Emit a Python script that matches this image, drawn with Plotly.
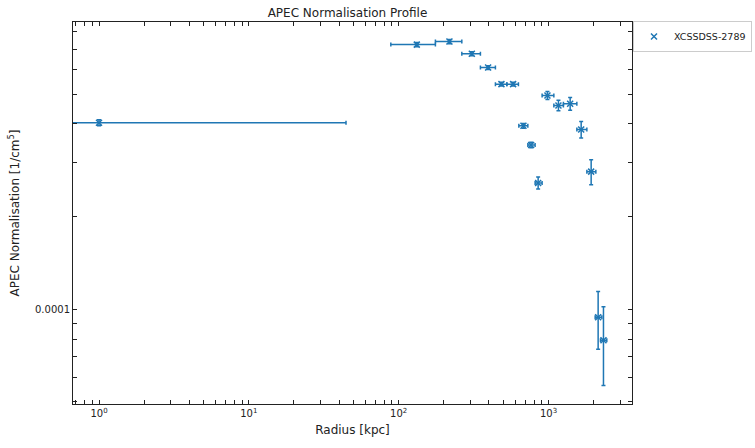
import plotly.graph_objects as go

# Annulus radii [kpc] and APEC normalisation values
radius = [1, 132.1, 218.1, 307.6, 395.2, 484.9, 580.3, 680, 765.2, 852.3,
          983.3, 1164.6, 1394, 1651, 1925, 2143, 2326]
radius_inner = [0.01, 88.6, 175.8, 263.8, 351.1, 442.1, 526.9, 633.5, 727.6, 813.7,
                906, 1085, 1257, 1545, 1802, 2047, 2221]
radius_outer = [44.5, 175.8, 263.8, 351.1, 442.1, 526.9, 629.6, 727.6, 813.7, 906,
                1085, 1257, 1545, 1802, 2069, 2269, 2449]
norm = [4.035e-4, 7.244e-4, 7.41e-4, 6.77e-4, 6.10e-4, 5.39e-4, 5.39e-4, 3.945e-4,
        3.42e-4, 2.573e-4, 4.953e-4, 4.595e-4, 4.654e-4, 3.837e-4, 2.80e-4,
        9.417e-5, 7.926e-5]
norm_err = [9e-6, 1.2e-5, 1.2e-5, 1e-5, 9e-6, 8e-6, 8e-6, 7e-6, 7e-6, 1.15e-5,
            1.5e-5, 1.8e-5, 2.2e-5, 2.35e-5, 2.6e-5, 2.0e-5, 2.27e-5]

x_major = [1, 10, 100, 1000]
x_major_text = ["10<sup>0</sup>", "10<sup>1</sup>", "10<sup>2</sup>", "10<sup>3</sup>"]
y_major = [1e-4]
y_major_text = ["0.0001"]

x_minor = [0.7, 0.8, 0.9] + [m * d for d in (1, 10, 100) for m in range(2, 10)] + [2000, 3000]
y_minor = [m * 1e-5 for m in range(5, 10)] + [m * 1e-4 for m in range(2, 9)]

xerr_minus = [r - lo for r, lo in zip(radius, radius_inner)]
xerr_plus = [hi - r for r, hi in zip(radius, radius_outer)]

blue = "#1f77b4"
W, H = 755, 448

fig = go.Figure()
fig.add_trace(go.Scatter(
    x=radius, y=norm, mode="markers", name="XCSSDSS-2789",
    marker=dict(symbol="x-thin", size=6, color=blue, line=dict(width=1.5, color=blue)),
    error_x=dict(type="data", array=xerr_plus, arrayminus=xerr_minus,
                 color=blue, thickness=1.5, width=2),
    error_y=dict(type="data", array=norm_err, color=blue, thickness=1.5, width=2),
))

xt = sorted(x_major + x_minor)
yt = sorted(y_major + y_minor)
axis_style = dict(type="log", showgrid=False, zeroline=False, showline=True,
                  linecolor="#222", linewidth=1, mirror="allticks", automargin=False,
                  ticks="inside", ticklen=4, tickcolor="#222",
                  tickfont=dict(family="DejaVu Sans", size=10, color="#222"))

fig.update_xaxes(**axis_style, range=[-0.1736, 3.557], tickmode="array", tickvals=xt,
                 ticktext=[x_major_text[x_major.index(v)] if v in x_major else "" for v in xt],
                 title=dict(text="Radius [kpc]", font=dict(family="DejaVu Sans", size=12, color="#222"),
                            standoff=7))
fig.update_yaxes(**axis_style, range=[-4.308, -3.0665], tickmode="array", tickvals=yt,
                 ticktext=[y_major_text[0] if v == 1e-4 else "" for v in yt],
                 title=dict(text="APEC Normalisation [1/cm<sup>5</sup>]",
                            font=dict(family="DejaVu Sans", size=12, color="#222"), standoff=12))

fig.update_layout(
    width=W, height=H,
    margin=dict(l=73, r=123, t=22, b=44),
    paper_bgcolor="white", plot_bgcolor="white",
    title=dict(text="APEC Normalisation Profile", x=347.5 / W, xanchor="center",
               y=1 - 13 / H, yanchor="middle", yref="container",
               font=dict(family="DejaVu Sans", size=12, color="#222")),
    showlegend=True,
    legend=dict(xref="container", yref="container", x=633 / W, y=1 - 21 / H,
                xanchor="left", yanchor="top", bgcolor="white", itemwidth=30,
                bordercolor="#cccccc", borderwidth=1,
                font=dict(family="DejaVu Sans", size=9.5, color="#222")),
)

# drop the default page margin so the figure sits at the window's corner
fig.write_html("out.html", config={"displayModeBar": False},
               post_script="document.body.style.margin = '0';")
